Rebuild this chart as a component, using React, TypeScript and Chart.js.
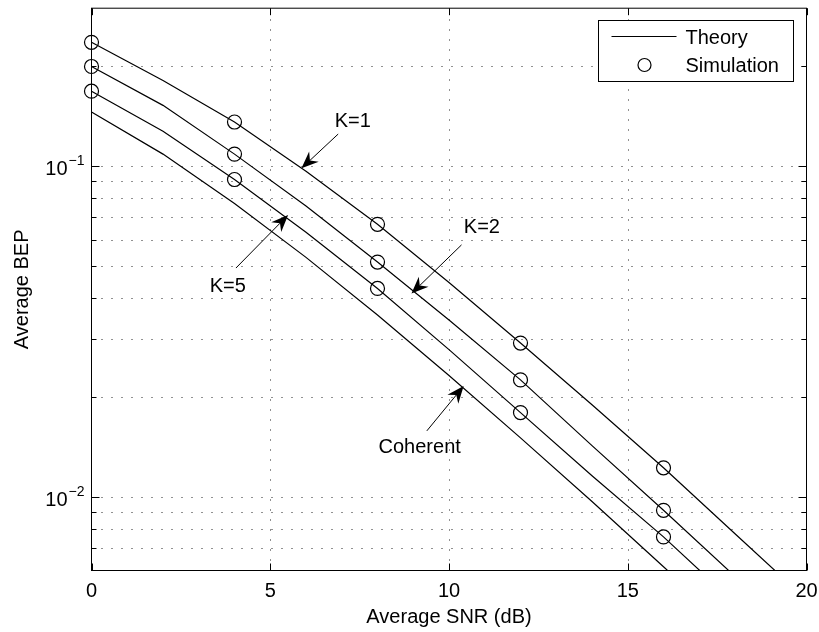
import { useEffect, useRef } from 'react';
import { Chart, registerables } from 'chart.js';

Chart.register(...registerables);

// Theory curves, sampled every 2 dB
const snrTheory = [0, 2, 4, 6, 8, 10, 12, 14, 16, 18, 20];
const bepK1 = [0.2366, 0.1815, 0.1359, 0.0965, 0.0667, 0.0445, 0.0292, 0.019, 0.01226, 0.00775, 0.0049];
const bepK2 = [0.2, 0.1526, 0.1087, 0.0758, 0.0513, 0.0343, 0.0226, 0.0143, 0.00912, 0.00576, 0.00364];
const bepK5 = [0.1684, 0.1274, 0.0911, 0.0631, 0.0427, 0.0279, 0.018, 0.0116, 0.00758, 0.00478, 0.003];
const bepCoherent = [0.1457, 0.1087, 0.0771, 0.053, 0.0355, 0.0233, 0.0151, 0.0097, 0.00616, 0.0039, 0.00247];

// Simulation points
const snrSim = [0, 4, 8, 12, 16];
const simK1 = [0.2366, 0.1359, 0.0667, 0.0292, 0.01226];
const simK2 = [0.2, 0.1087, 0.0513, 0.0226, 0.00912];
const simK5 = [0.1684, 0.0911, 0.0427, 0.018, 0.00758];

// Axes
const xMin = 0;
const xMax = 20;
const yMin = 0.006;
const yMax = 0.3;
const xTicks = [0, 5, 10, 15, 20];
const yMajorTicks = [0.01, 0.1];
const yMajorExponents = ['\u22122', '\u22121'];
const yMinorTicks = [0.007, 0.008, 0.009, 0.02, 0.03, 0.04, 0.05, 0.06, 0.07, 0.08, 0.09, 0.2];

// Curve annotations (data coordinates): label, label centre, arrow tail, arrow tip
const noteLabels = ['K=1', 'K=2', 'K=5', 'Coherent'];
const noteTextX = [7.31, 10.92, 3.81, 9.18];
const noteTextY = [0.136, 0.0652, 0.0433, 0.0141];
const noteTailX = [6.9, 10.35, 4.04, 9.38];
const noteTailY = [0.125, 0.0578, 0.0492, 0.01585];
const noteTipX = [5.874, 8.95, 5.5, 10.41];
const noteTipY = [0.0985, 0.0412, 0.0712, 0.02165];

const legendLabels = ['Theory', 'Simulation'];

const FONT = '"Liberation Sans", Arial, Helvetica, sans-serif';

function pts(xs: number[], ys: number[]) {
  return xs.map((x, i) => ({ x, y: ys[i] }));
}

function drawArrow(ctx: CanvasRenderingContext2D, x1: number, y1: number, x2: number, y2: number) {
  const dx = x2 - x1;
  const dy = y2 - y1;
  const len = Math.hypot(dx, dy);
  const ux = dx / len;
  const uy = dy / len;
  const px = -uy;
  const py = ux;
  const L = 17;
  const W = 7;
  const notch = 0.68 * L;
  ctx.save();
  ctx.strokeStyle = '#000';
  ctx.fillStyle = '#000';
  ctx.lineWidth = 1;
  ctx.beginPath();
  ctx.moveTo(x1, y1);
  ctx.lineTo(x2 - ux * notch, y2 - uy * notch);
  ctx.stroke();
  ctx.beginPath();
  ctx.moveTo(x2, y2);
  ctx.lineTo(x2 - ux * L + px * W, y2 - uy * L + py * W);
  ctx.lineTo(x2 - ux * notch, y2 - uy * notch);
  ctx.lineTo(x2 - ux * L - px * W, y2 - uy * L - py * W);
  ctx.closePath();
  ctx.fill();
  ctx.restore();
}

const axesDecor = {
  id: 'axesDecor',
  beforeDatasetsDraw(chart: any) {
    const { ctx, chartArea, scales } = chart;
    const { left, right, top, bottom } = chartArea;
    ctx.save();
    ctx.strokeStyle = '#222';
    ctx.lineWidth = 1;
    ctx.setLineDash([1, 9]);
    for (const v of xTicks) {
      if (v === xMin || v === xMax) continue;
      const x = Math.round(scales.x.getPixelForValue(v)) + 0.5;
      ctx.beginPath();
      ctx.moveTo(x, bottom);
      ctx.lineTo(x, top);
      ctx.stroke();
    }
    for (const v of [...yMinorTicks, ...yMajorTicks]) {
      const y = Math.round(scales.y.getPixelForValue(v)) + 0.5;
      ctx.beginPath();
      ctx.moveTo(left, y);
      ctx.lineTo(right, y);
      ctx.stroke();
    }
    ctx.restore();
  },
  afterDatasetsDraw(chart: any) {
    const { ctx, chartArea, scales } = chart;
    const { left, right, top, bottom } = chartArea;
    ctx.save();
    ctx.setLineDash([]);
    ctx.strokeStyle = '#000';
    ctx.lineWidth = 1;

    // Frame
    ctx.strokeRect(left, top, right - left, bottom - top);

    // Inward tick marks
    ctx.beginPath();
    for (const v of xTicks) {
      const x = Math.round(scales.x.getPixelForValue(v)) + 0.5;
      ctx.moveTo(x, bottom);
      ctx.lineTo(x, bottom - 7);
      ctx.moveTo(x, top);
      ctx.lineTo(x, top + 7);
    }
    for (const v of yMajorTicks) {
      const y = Math.round(scales.y.getPixelForValue(v)) + 0.5;
      ctx.moveTo(left, y);
      ctx.lineTo(left + 8, y);
      ctx.moveTo(right, y);
      ctx.lineTo(right - 8, y);
    }
    for (const v of yMinorTicks) {
      const y = Math.round(scales.y.getPixelForValue(v)) + 0.5;
      ctx.moveTo(left, y);
      ctx.lineTo(left + 5, y);
      ctx.moveTo(right, y);
      ctx.lineTo(right - 5, y);
    }
    ctx.stroke();

    ctx.fillStyle = '#000';

    // X tick labels
    ctx.font = `20px ${FONT}`;
    ctx.textAlign = 'center';
    ctx.textBaseline = 'alphabetic';
    for (const v of xTicks) {
      ctx.fillText(String(v), scales.x.getPixelForValue(v), bottom + 26.5);
    }

    // Y tick labels as powers of ten
    yMajorTicks.forEach((v, i) => {
      const y = scales.y.getPixelForValue(v);
      ctx.font = `20px ${FONT}`;
      const wb = ctx.measureText('10').width;
      ctx.font = `14px ${FONT}`;
      const we = ctx.measureText(yMajorExponents[i]).width;
      const x0 = left - 7 - we - 1 - wb;
      ctx.textAlign = 'left';
      ctx.font = `20px ${FONT}`;
      ctx.fillText('10', x0, y + 8.5);
      ctx.font = `14px ${FONT}`;
      ctx.fillText(yMajorExponents[i], x0 + wb + 1, y - 1);
    });

    // Axis titles
    ctx.font = `20px ${FONT}`;
    ctx.textAlign = 'center';
    ctx.fillText('Average SNR (dB)', (left + right) / 2, bottom + 52);
    ctx.save();
    ctx.translate(27.5, (top + bottom) / 2);
    ctx.rotate(-Math.PI / 2);
    ctx.fillText('Average BEP', 0, 0);
    ctx.restore();

    // Curve annotations
    noteLabels.forEach((label, i) => {
      const tx = scales.x.getPixelForValue(noteTextX[i]);
      const ty = scales.y.getPixelForValue(noteTextY[i]);
      ctx.font = `20px ${FONT}`;
      ctx.textAlign = 'center';
      ctx.textBaseline = 'middle';
      ctx.fillText(label, tx, ty);
      drawArrow(
        ctx,
        scales.x.getPixelForValue(noteTailX[i]),
        scales.y.getPixelForValue(noteTailY[i]),
        scales.x.getPixelForValue(noteTipX[i]),
        scales.y.getPixelForValue(noteTipY[i])
      );
    });

    // Legend
    const bw = 195;
    const bh = 61;
    const bx = Math.round(right - 14 - bw) + 0.5;
    const by = Math.round(top + 12) + 0.5;
    ctx.fillStyle = '#fff';
    ctx.fillRect(bx, by, bw, bh);
    ctx.strokeStyle = '#000';
    ctx.lineWidth = 1;
    ctx.strokeRect(bx, by, bw, bh);
    ctx.beginPath();
    ctx.moveTo(bx + 13, by + 16);
    ctx.lineTo(bx + 78, by + 16);
    ctx.lineWidth = 1.2;
    ctx.stroke();
    ctx.beginPath();
    ctx.arc(bx + 46, by + 44.5, 6.5, 0, Math.PI * 2);
    ctx.stroke();
    ctx.fillStyle = '#000';
    ctx.font = `20px ${FONT}`;
    ctx.textAlign = 'left';
    ctx.textBaseline = 'alphabetic';
    ctx.fillText(legendLabels[0], bx + 87, by + 23.5);
    ctx.fillText(legendLabels[1], bx + 87, by + 51);

    ctx.restore();
  },
};

export default function App() {
  const canvasRef = useRef<HTMLCanvasElement>(null);

  useEffect(() => {
    const canvas = canvasRef.current;
    if (!canvas) return;

    const theory = (ys: number[]) => ({
      data: pts(snrTheory, ys),
      borderColor: '#000',
      borderWidth: 1.2,
      pointRadius: 0,
      tension: 0,
      fill: false,
    });
    const sim = (ys: number[]) => ({
      data: pts(snrSim, ys),
      showLine: false,
      pointRadius: 7,
      pointStyle: 'circle',
      pointBorderColor: '#000',
      pointBackgroundColor: 'rgba(0,0,0,0)',
      pointBorderWidth: 1.2,
      clip: false,
    });

    const chart = new Chart(canvas, {
      type: 'line',
      data: {
        datasets: [
          theory(bepK1),
          theory(bepK2),
          theory(bepK5),
          theory(bepCoherent),
          sim(simK1),
          sim(simK2),
          sim(simK5),
        ] as any,
      },
      options: {
        animation: false,
        responsive: false,
        devicePixelRatio: 1,
        events: [],
        layout: { padding: { left: 91.5, top: 5.5, right: 12.5, bottom: 61.5 } },
        plugins: { legend: { display: false }, tooltip: { enabled: false } },
        scales: {
          x: { type: 'linear', min: xMin, max: xMax, display: false },
          y: { type: 'logarithmic', min: yMin, max: yMax, display: false },
        },
      },
      plugins: [axesDecor],
    });

    return () => chart.destroy();
  }, []);

  return (
    <div style={{ position: 'fixed', left: 0, top: 0, width: 819, height: 632, background: '#fff' }}>
      <canvas ref={canvasRef} width={819} height={632} style={{ display: 'block' }} />
    </div>
  );
}
